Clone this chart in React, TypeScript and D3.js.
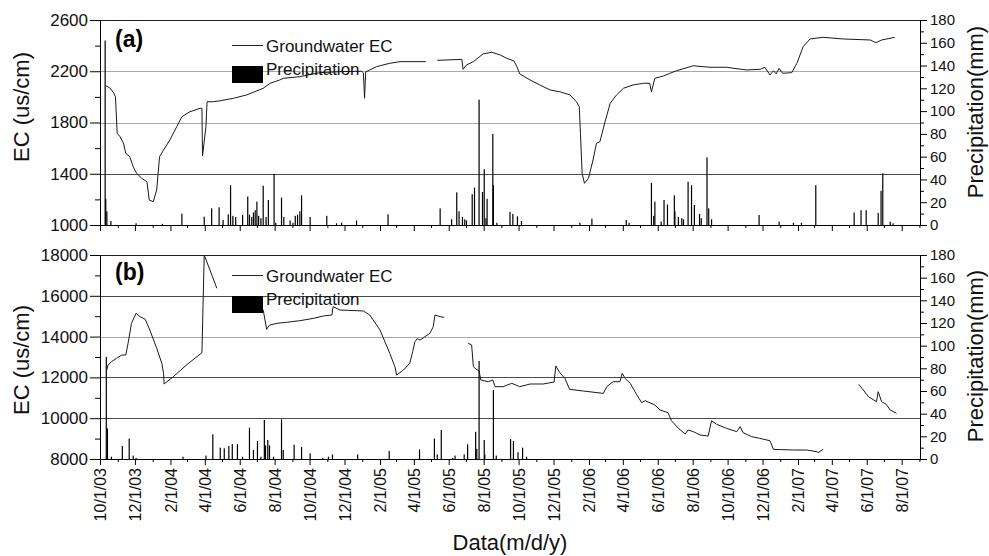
import React, { useRef, useEffect } from "react";
import * as d3 from "d3";

type Pt = [string, number | null];
type Rain = [string, number];

// Panel (a): groundwater EC (us/cm), null marks a gap in the logger record
const ecA: Pt[] = [
	["2003-10-10", 2090], ["2003-10-18", 2070], ["2003-10-25", 2030], ["2003-10-28", 2000],
	["2003-10-31", 1716], ["2003-11-05", 1689], ["2003-11-11", 1638], ["2003-11-15", 1560],
	["2003-11-22", 1533], ["2003-11-28", 1455], ["2003-12-04", 1403], ["2003-12-13", 1364],
	["2003-12-22", 1338], ["2003-12-26", 1195], ["2004-01-02", 1182], ["2004-01-08", 1273],
	["2004-01-13", 1533], ["2004-01-20", 1585], ["2004-01-31", 1663], ["2004-02-12", 1767],
	["2004-02-21", 1845], ["2004-03-06", 1884], ["2004-03-24", 1911], ["2004-03-27", 1911],
	["2004-03-28", 1539], ["2004-04-03", 1767], ["2004-04-05", 1962], ["2004-04-16", 1962],
	["2004-04-28", 1970], ["2004-05-21", 1989], ["2004-06-13", 2015], ["2004-07-12", 2067],
	["2004-07-24", 2106], ["2004-08-10", 2132], ["2004-08-16", 2145], ["2004-09-14", 2158],
	["2004-10-19", 2189], ["2004-11-23", 2197], ["2004-12-31", 2200], ["2005-01-03", 2187],
	["2005-01-05", 1989], ["2005-01-07", 2195], ["2005-01-14", 2210], ["2005-01-26", 2236],
	["2005-02-18", 2262], ["2005-03-08", 2275], ["2005-04-22", 2275], ["2005-05-01", null],
	["2005-05-12", 2285], ["2005-06-24", 2293], ["2005-06-26", 2215], ["2005-07-02", 2249],
	["2005-07-14", 2275], ["2005-07-31", 2335], ["2005-08-15", 2348], ["2005-08-30", 2327],
	["2005-09-10", 2301], ["2005-09-23", 2280], ["2005-09-28", 2236], ["2005-10-03", 2179],
	["2005-10-21", 2132], ["2005-11-07", 2093], ["2005-11-25", 2054], ["2005-12-12", 2040],
	["2005-12-30", 2015], ["2006-01-10", 1962], ["2006-01-15", 1923], ["2006-01-17", 1716],
	["2006-01-20", 1403], ["2006-01-24", 1325], ["2006-01-31", 1364], ["2006-02-08", 1507],
	["2006-02-14", 1638], ["2006-02-20", 1650], ["2006-03-01", 1806], ["2006-03-10", 1950],
	["2006-03-21", 2015], ["2006-04-02", 2067], ["2006-04-19", 2093], ["2006-05-07", 2106],
	["2006-05-18", 2106], ["2006-05-21", 2040], ["2006-05-27", 2145], ["2006-06-11", 2163],
	["2006-06-22", 2184], ["2006-07-04", 2204], ["2006-08-02", 2243], ["2006-08-31", 2231],
	["2006-09-29", 2231], ["2006-11-03", 2210], ["2006-11-27", 2215], ["2006-12-05", 2231],
	["2006-12-14", 2171], ["2006-12-20", 2204], ["2006-12-25", 2180], ["2006-12-30", 2223],
	["2007-01-05", 2184], ["2007-01-21", 2189], ["2007-01-30", 2262], ["2007-02-10", 2392],
	["2007-02-22", 2452], ["2007-03-17", 2465], ["2007-04-21", 2452], ["2007-06-07", 2444],
	["2007-06-17", 2423], ["2007-06-27", 2444], ["2007-07-17", 2462], ["2007-07-20", 2465],
];

// Panel (a): daily precipitation (mm)
const rainA: Rain[] = [
	["2003-10-10", 162], ["2003-10-11", 23], ["2003-10-13", 12], ["2003-10-20", 3.5],
	["2003-12-03", 1.5], ["2004-01-18", 1], ["2004-02-21", 10], ["2004-03-31", 7.3],
	["2004-04-13", 14.6], ["2004-04-26", 15.5], ["2004-05-03", 4.4], ["2004-05-12", 9.4],
	["2004-05-16", 35], ["2004-05-20", 8], ["2004-05-25", 7], ["2004-06-06", 9],
	["2004-06-15", 25], ["2004-06-18", 9], ["2004-06-22", 7], ["2004-06-25", 11],
	["2004-06-28", 13], ["2004-07-01", 20.5], ["2004-07-04", 8], ["2004-07-08", 6],
	["2004-07-12", 34.5], ["2004-07-17", 7], ["2004-07-21", 22], ["2004-07-31", 44.8],
	["2004-08-03", 2], ["2004-08-13", 24], ["2004-08-17", 7], ["2004-08-28", 4],
	["2004-09-02", 2], ["2004-09-06", 8], ["2004-09-10", 9], ["2004-09-14", 12],
	["2004-09-17", 26], ["2004-10-02", 7], ["2004-10-31", 8], ["2004-11-17", 1.5],
	["2004-11-26", 2], ["2004-12-22", 4], ["2005-02-15", 9.4], ["2005-05-17", 14.6],
	["2005-06-06", 5], ["2005-06-15", 28.7], ["2005-06-19", 12], ["2005-06-25", 7],
	["2005-06-29", 5], ["2005-07-02", 4], ["2005-07-12", 27], ["2005-07-16", 32.8],
	["2005-07-24", 110], ["2005-07-30", 29], ["2005-08-02", 49], ["2005-08-05", 6],
	["2005-08-07", 23], ["2005-08-17", 80], ["2005-08-18", 35], ["2005-08-24", 2],
	["2005-09-16", 11.6], ["2005-09-21", 9.7], ["2005-09-29", 7.6], ["2005-10-06", 3.5],
	["2006-01-16", 2], ["2006-02-06", 5.5], ["2006-04-07", 4.4], ["2006-04-12", 2],
	["2006-05-21", 37], ["2006-05-25", 8], ["2006-05-27", 20.5], ["2006-06-07", 3],
	["2006-06-12", 22], ["2006-06-18", 18], ["2006-06-30", 26], ["2006-07-01", 12],
	["2006-07-07", 7], ["2006-07-13", 6], ["2006-07-16", 5], ["2006-07-24", 38],
	["2006-07-30", 35], ["2006-08-04", 17.6], ["2006-08-13", 9.7], ["2006-08-16", 6],
	["2006-08-26", 59.4], ["2006-08-29", 14.6], ["2006-09-03", 5], ["2006-11-25", 8.8],
	["2006-12-30", 3], ["2007-01-24", 2], ["2007-02-07", 2], ["2007-03-04", 35],
	["2007-05-10", 11], ["2007-05-22", 13], ["2007-05-31", 13], ["2007-06-21", 10.6],
	["2007-06-26", 30], ["2007-06-29", 45.4], ["2007-07-12", 3], ["2007-07-17", 1.5],
];

// Panel (b): groundwater EC (us/cm)
const ecB: Pt[] = [
	["2003-10-12", 12280], ["2003-10-15", 12608], ["2003-10-21", 12770], ["2003-10-30", 12936],
	["2003-11-08", 13098], ["2003-11-15", 13098], ["2003-11-19", 13670], ["2003-11-25", 14652],
	["2003-12-03", 15142], ["2003-12-10", 14976], ["2003-12-19", 14848], ["2003-12-27", 14323],
	["2004-01-08", 13426], ["2004-01-17", 12691], ["2004-01-20", 12200], ["2004-01-21", 11676],
	["2004-02-06", 12034], ["2004-02-29", 12608], ["2004-03-27", 13211], ["2004-03-31", 18000],
	["2004-04-10", 17265], ["2004-04-22", 16368], ["2004-05-15", null],
	["2004-06-29", 15221], ["2004-07-12", 15304], ["2004-07-18", 14357], ["2004-07-23", 14560],
	["2004-08-05", 14652], ["2004-08-22", 14701], ["2004-09-14", 14780], ["2004-10-08", 14897],
	["2004-10-25", 15010], ["2004-11-09", 15059], ["2004-11-11", 15466], ["2004-11-23", 15304],
	["2005-01-03", 15255], ["2005-01-14", 15059], ["2005-02-01", 14323], ["2005-02-18", 13181],
	["2005-02-27", 12525], ["2005-03-02", 12118], ["2005-03-14", 12363], ["2005-03-25", 12691],
	["2005-03-30", 13260], ["2005-04-03", 13750], ["2005-04-07", 13900], ["2005-04-12", 13833],
	["2005-04-29", 14160], ["2005-05-05", 14485], ["2005-05-08", 15059], ["2005-05-17", 14976],
	["2005-05-24", 14946], ["2005-06-15", null],
	["2005-07-05", 13670], ["2005-07-11", 13590], ["2005-07-14", 12525], ["2005-07-19", 12400],
	["2005-07-24", 12314], ["2005-07-27", 11873], ["2005-08-09", 11789], ["2005-08-17", 11873],
	["2005-08-21", 11544], ["2005-09-04", 11544], ["2005-09-19", 11710], ["2005-10-03", 11544],
	["2005-10-21", 11676], ["2005-11-13", 11676], ["2005-12-02", 11774], ["2005-12-05", 12560],
	["2005-12-12", 12230], ["2005-12-21", 11950], ["2005-12-29", 11416], ["2006-01-22", 11333],
	["2006-02-26", 11216], ["2006-03-04", 11544], ["2006-03-15", 11789], ["2006-03-27", 11789],
	["2006-03-31", 12200], ["2006-04-05", 11950], ["2006-04-14", 11710], ["2006-04-24", 11216],
	["2006-05-04", 10760], ["2006-05-10", 10860], ["2006-05-27", 10647], ["2006-06-05", 10402],
	["2006-06-19", 10270], ["2006-06-25", 9878], ["2006-07-07", 9505], ["2006-07-19", 9226],
	["2006-07-24", 9422], ["2006-08-02", 9341], ["2006-08-14", 9176], ["2006-08-28", 9127],
	["2006-09-03", 9878], ["2006-09-12", 9700], ["2006-09-29", 9505], ["2006-10-17", 9341],
	["2006-10-23", 9586], ["2006-10-28", 9292], ["2006-11-12", 9095], ["2006-11-26", 9013],
	["2006-12-14", 8896], ["2006-12-20", 8473], ["2007-01-24", 8440], ["2007-02-16", 8440],
	["2007-03-06", 8358], ["2007-03-08", 8310], ["2007-03-17", 8473], ["2007-04-20", null],
	["2007-05-18", 11660], ["2007-05-26", 11382], ["2007-06-04", 11054], ["2007-06-18", 10809],
	["2007-06-21", 11300], ["2007-06-27", 10809], ["2007-07-05", 10679], ["2007-07-12", 10402],
	["2007-07-23", 10239],
];

// Panel (b): daily precipitation (mm)
const rainB: Rain[] = [
	["2003-10-12", 90], ["2003-10-14", 27], ["2003-10-21", 2], ["2003-11-09", 11.5],
	["2003-11-21", 18], ["2003-11-28", 3], ["2003-12-03", 1], ["2004-02-23", 2],
	["2004-04-03", 3], ["2004-04-15", 21.8], ["2004-04-28", 10], ["2004-05-05", 9.4],
	["2004-05-13", 11.5], ["2004-05-19", 13.2], ["2004-05-28", 13], ["2004-06-06", 2],
	["2004-06-18", 27.6], ["2004-06-25", 7.9], ["2004-07-02", 15.9], ["2004-07-08", 2],
	["2004-07-14", 34.4], ["2004-07-16", 12], ["2004-07-20", 16.8], ["2004-07-23", 12],
	["2004-07-30", 2], ["2004-08-13", 35], ["2004-08-16", 8], ["2004-09-04", 12.6],
	["2004-09-17", 10.6], ["2004-10-02", 5], ["2004-10-24", 1], ["2004-11-03", 2],
	["2004-11-10", 4], ["2004-12-24", 4], ["2005-02-17", 7], ["2005-04-11", 8.5],
	["2005-05-07", 18], ["2005-05-12", 4], ["2005-05-19", 25.6], ["2005-06-08", 1],
	["2005-06-12", 3], ["2005-06-28", 4], ["2005-07-04", 13], ["2005-07-18", 24],
	["2005-07-20", 9], ["2005-07-24", 86.5], ["2005-08-02", 16.8], ["2005-08-03", 4],
	["2005-08-18", 61], ["2005-08-23", 3], ["2005-09-17", 17.6], ["2005-09-22", 16],
	["2005-09-30", 6], ["2005-10-08", 10], ["2005-10-15", 2],
];

const FONT = "'Liberation Sans', Arial, Helvetica, sans-serif";
const LEFT = 100;
const RIGHT = 920;
const X_START = new Date(2003, 9, 1);
const X_END = new Date(2007, 8, 2);

interface PanelSpec {
	label: string;
	top: number;
	bottom: number;
	ecDomain: [number, number];
	ecStep: number;
	ec: Pt[];
	rain: Rain[];
	legendY: number;
	labelY: number;
	ecTitleY: number;
	rainTitleY: number;
	lightGrid: number[];
	xLabels: boolean;
}

const panelSpecs: PanelSpec[] = [
	{
		label: "(a)",
		top: 20,
		bottom: 225,
		ecDomain: [1000, 2600],
		ecStep: 400,
		ec: ecA,
		rain: rainA,
		legendY: 45,
		labelY: 47,
		ecTitleY: 107,
		rainTitleY: 112,
		lightGrid: [2200, 1800],
		xLabels: false,
	},
	{
		label: "(b)",
		top: 255,
		bottom: 459,
		ecDomain: [8000, 18000],
		ecStep: 2000,
		ec: ecB,
		rain: rainB,
		legendY: 275,
		labelY: 280,
		ecTitleY: 360,
		rainTitleY: 356,
		lightGrid: [14000],
		xLabels: true,
	},
];

const App: React.FC = () => {
	const svgRef = useRef<SVGSVGElement>(null);

	useEffect(() => {
		if (!svgRef.current) return;
		const svg = d3.select(svgRef.current);
		svg.selectAll("*").remove();

		const parseDay = d3.timeParse("%Y-%m-%d");
		const day = (s: string) => parseDay(s) as Date;

		const x = d3.scaleTime().domain([X_START, X_END]).range([LEFT, RIGHT]);
		const months = d3.timeMonths(X_START, X_END);
		const majorMonths = months.filter((_, i) => i % 2 === 0);
		const minorMonths = months.filter((_, i) => i % 2 === 1);
		const fmt = d3.timeFormat("%-m/%-d/%y");

		const styleAxis = (g: d3.Selection<SVGGElement, unknown, null, undefined>, size: number) => {
			g.attr("font-family", FONT).attr("font-size", size);
			g.selectAll("text").attr("fill", "#111");
		};

		panelSpecs.forEach((p) => {
			const y = d3.scaleLinear().domain(p.ecDomain).range([p.bottom, p.top]);
			const yP = d3.scaleLinear().domain([0, 180]).range([p.bottom, p.top]);
			const g = svg.append("g");

			const majors = d3.range(p.ecDomain[0], p.ecDomain[1] + 1, p.ecStep);
			const minors = majors.slice(0, -1).map((v) => v + p.ecStep / 2);

			// horizontal grid
			g.selectAll("line.grid")
				.data(majors.slice(1, -1))
				.join("line")
				.attr("x1", LEFT)
				.attr("x2", RIGHT)
				.attr("y1", (d) => Math.round(y(d)) + 0.5)
				.attr("y2", (d) => Math.round(y(d)) + 0.5)
				.attr("stroke", (d) => (p.lightGrid.includes(d) ? "#a8a8a8" : "#4a4a4a"))
				.attr("stroke-width", 1);

			g.append("line")
				.attr("x1", LEFT)
				.attr("x2", RIGHT)
				.attr("y1", p.top + 0.5)
				.attr("y2", p.top + 0.5)
				.attr("stroke", "#222");

			// precipitation bars
			g.selectAll("rect.rain")
				.data(p.rain)
				.join("rect")
				.attr("x", (d) => x(day(d[0])) - 0.6)
				.attr("width", 1.2)
				.attr("y", (d) => yP(d[1]))
				.attr("height", (d) => yP(0) - yP(d[1]))
				.attr("fill", "#000");

			// EC line
			const line = d3
				.line<Pt>()
				.defined((d) => d[1] !== null)
				.x((d) => x(day(d[0])))
				.y((d) => y(d[1] as number));

			g.append("path")
				.datum(p.ec)
				.attr("fill", "none")
				.attr("stroke", "#1a1a1a")
				.attr("stroke-width", 1)
				.attr("d", line);

			// left axis
			const la = g
				.append("g")
				.attr("transform", `translate(${LEFT},0)`)
				.call(
					d3.axisLeft(y).tickValues(majors).tickSize(10).tickSizeOuter(0).tickPadding(2).tickFormat(d3.format("d"))
				);
			styleAxis(la, 17);
			g.append("g")
				.attr("transform", `translate(${LEFT},0)`)
				.call(d3.axisLeft(y).tickValues(minors).tickSize(5).tickFormat(() => ""))
				.call((s) => s.select(".domain").remove());

			// right axis
			const ra = g
				.append("g")
				.attr("transform", `translate(${RIGHT},0)`)
				.call(d3.axisRight(yP).tickValues(d3.range(0, 181, 20)).tickSize(7).tickSizeOuter(0).tickPadding(3));
			styleAxis(ra, 15);
			g.append("g")
				.attr("transform", `translate(${RIGHT},0)`)
				.call(d3.axisRight(yP).tickValues(d3.range(10, 180, 20)).tickSize(4).tickFormat(() => ""))
				.call((s) => s.select(".domain").remove());

			// bottom axis
			const ba = g
				.append("g")
				.attr("transform", `translate(0,${p.bottom})`)
				.call(
					d3
						.axisBottom(x)
						.tickValues(majorMonths)
						.tickSize(6)
						.tickSizeOuter(0)
						.tickFormat((d) => (p.xLabels ? fmt(d as Date) : ""))
				);
			styleAxis(ba, 16);
			ba.selectAll("text")
				.attr("transform", "rotate(-90)")
				.attr("x", -9)
				.attr("y", 0)
				.attr("dy", "0.36em")
				.attr("text-anchor", "end");
			g.append("g")
				.attr("transform", `translate(0,${p.bottom})`)
				.call(d3.axisBottom(x).tickValues(minorMonths).tickSize(3).tickFormat(() => ""))
				.call((s) => s.select(".domain").remove());

			// axis titles
			g.append("text")
				.attr("transform", `translate(29,${p.ecTitleY}) rotate(-90)`)
				.attr("text-anchor", "middle")
				.attr("font-family", FONT)
				.attr("font-size", 22)
				.attr("fill", "#111")
				.text("EC (us/cm)");
			g.append("text")
				.attr("transform", `translate(983,${p.rainTitleY}) rotate(-90)`)
				.attr("text-anchor", "middle")
				.attr("font-family", FONT)
				.attr("font-size", 22)
				.attr("fill", "#111")
				.text("Precipitation(mm)");

			// panel label
			g.append("text")
				.attr("x", 115)
				.attr("y", p.labelY)
				.attr("font-family", FONT)
				.attr("font-size", 23)
				.attr("font-weight", "bold")
				.attr("fill", "#000")
				.text(p.label);

			// legend
			const lg = g.append("g").attr("font-family", FONT).attr("font-size", 17).attr("fill", "#111");
			lg.append("line")
				.attr("x1", 232)
				.attr("x2", 263)
				.attr("y1", p.legendY + 0.5)
				.attr("y2", p.legendY + 0.5)
				.attr("stroke", "#222");
			lg.append("text").attr("x", 266).attr("y", p.legendY + 7).text("Groundwater EC");
			lg.append("rect")
				.attr("x", 232)
				.attr("y", p.legendY + 21)
				.attr("width", 31)
				.attr("height", 17)
				.attr("fill", "#000");
			lg.append("text").attr("x", 266).attr("y", p.legendY + 30).text("Precipitation");
		});

		svg.append("text")
			.attr("x", (LEFT + RIGHT) / 2)
			.attr("y", 550)
			.attr("text-anchor", "middle")
			.attr("font-family", FONT)
			.attr("font-size", 22)
			.attr("fill", "#111")
			.text("Data(m/d/y)");
	}, []);

	return (
		<svg
			ref={svgRef}
			width={989}
			height={556}
			style={{ position: "absolute", left: 0, top: 0, background: "#fff", display: "block" }}
		/>
	);
};

export default App;
